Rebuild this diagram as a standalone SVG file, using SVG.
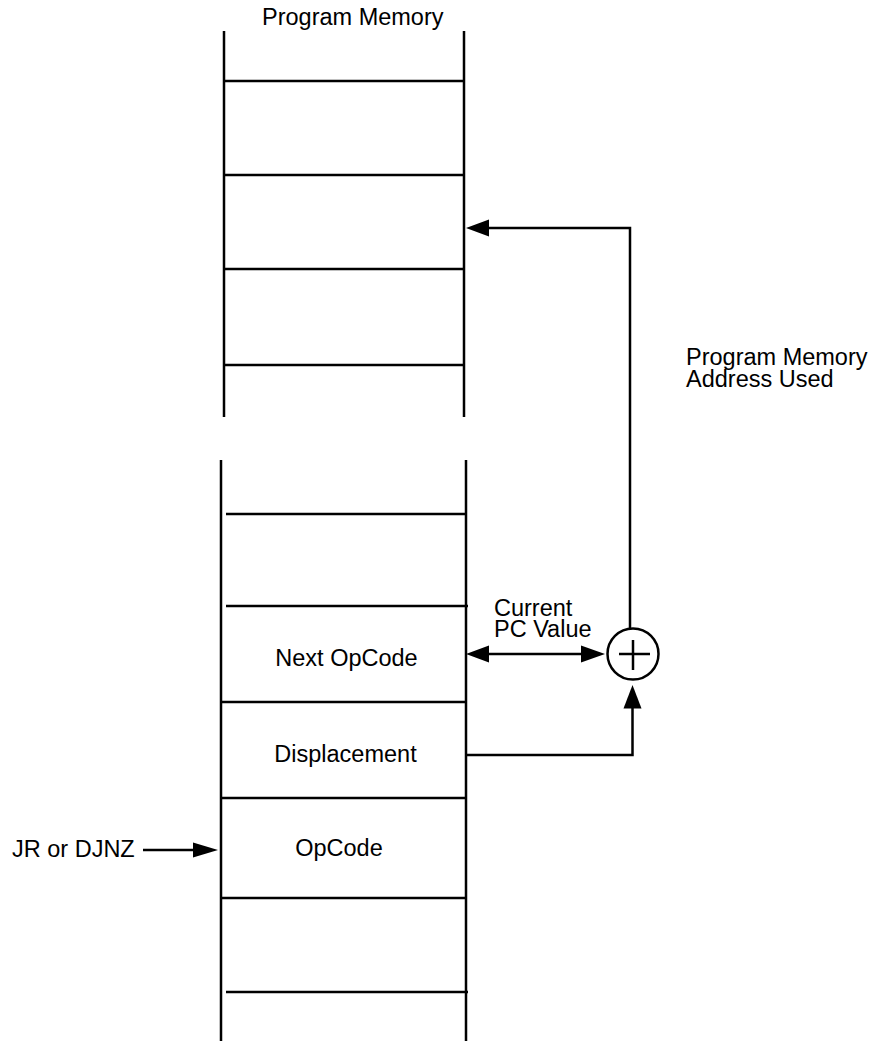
<svg xmlns="http://www.w3.org/2000/svg" width="873" height="1041" viewBox="0 0 873 1041">
<style>
  .ln { stroke: #000; stroke-width: 2.5; fill: none; stroke-linecap: butt; }
  .tx { font-family: "Liberation Sans", Arial, sans-serif; font-size: 23.5px; fill: #000; }
  .ah { fill: #000; stroke: none; }
</style>
<rect width="873" height="1041" fill="#fff"/>
<g id="top-memory">
  <text class="tx" x="262" y="25">Program Memory</text>
  <line class="ln" x1="224" y1="31" x2="224" y2="417"/>
  <line class="ln" x1="464" y1="31" x2="464" y2="417"/>
  <line class="ln" x1="224" y1="81" x2="464" y2="81"/>
  <line class="ln" x1="224" y1="175" x2="464" y2="175"/>
  <line class="ln" x1="224" y1="269" x2="464" y2="269"/>
  <line class="ln" x1="224" y1="365" x2="464" y2="365"/>
</g>
<g id="bottom-memory">
  <line class="ln" x1="221" y1="460" x2="221" y2="1041"/>
  <line class="ln" x1="466" y1="460" x2="466" y2="1041"/>
  <line class="ln" x1="226" y1="514" x2="466" y2="514"/>
  <line class="ln" x1="226" y1="606" x2="468" y2="606"/>
  <line class="ln" x1="221" y1="702" x2="466" y2="702"/>
  <line class="ln" x1="221" y1="798" x2="466" y2="798"/>
  <line class="ln" x1="221" y1="898" x2="466" y2="898"/>
  <line class="ln" x1="226" y1="992" x2="468" y2="992"/>
</g>
<g id="next-opcode">
  <text class="tx" x="346.5" y="666" text-anchor="middle">Next OpCode</text>
</g>
<g id="displacement">
  <text class="tx" x="345.5" y="762" text-anchor="middle">Displacement</text>
</g>
<g id="opcode">
  <text class="tx" x="339" y="856" text-anchor="middle">OpCode</text>
</g>
<g id="adder">
  <circle class="ln" cx="633" cy="654" r="25.5"/>
  <line class="ln" x1="619" y1="654" x2="650" y2="654"/>
  <line class="ln" x1="633" y1="640" x2="633" y2="670"/>
</g>
<g id="labels">
  <text class="tx" x="494" y="616">Current<tspan x="494" dy="21">PC Value</tspan></text>
  <text class="tx" x="686" y="365">Program Memory<tspan x="686" dy="22">Address Used</tspan></text>
  <text class="tx" x="12" y="857">JR or DJNZ</text>
</g>
<g id="connectors">
  <polyline class="ln" points="630,628 630,228 488,228"/>
  <polygon class="ah" points="466,228 489,219.5 489,236.5"/>
  <line class="ln" x1="488" y1="654" x2="582" y2="654"/>
  <polygon class="ah" points="466,654 489,645.5 489,662.5"/>
  <polygon class="ah" points="605,654 581,645.5 581,662.5"/>
  <polyline class="ln" points="467,755 632.5,755 632.5,706"/>
  <polygon class="ah" points="632.5,685 623.5,708.5 641.5,708.5"/>
  <line class="ln" x1="143" y1="850" x2="194" y2="850"/>
  <polygon class="ah" points="218,850 193,842.5 193,857.5"/>
</g>
</svg>
